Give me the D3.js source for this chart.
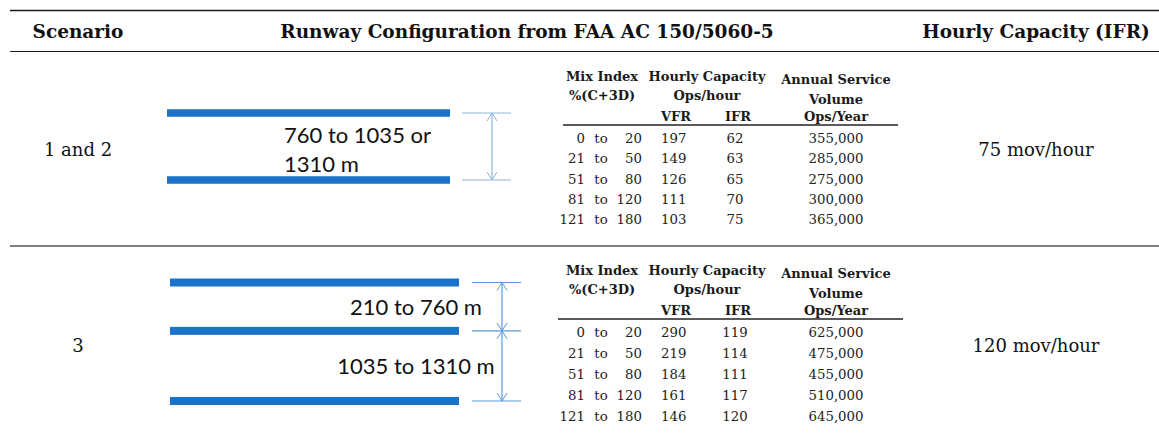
<!DOCTYPE html>
<html><head><meta charset="utf-8">
<script src="https://cdn.jsdelivr.net/npm/d3@7"></script>
<style>
html,body{margin:0;padding:0;background:#fff;}
svg{display:block;}
</style></head>
<body><svg id="chart" width="1159" height="441"></svg>
<script>
// ---------- DATA ----------
const columnHeaders = ["Scenario", "Runway Configuration from FAA AC 150/5060-5", "Hourly Capacity (IFR)"];
const scenarios = ["1 and 2", "3"];
const capacityIFR = [75, 120];
const capacityUnit = "mov/hour";
const runwaySeparations1 = ["760 to 1035 or", "1310 m"]; // one gap, two text lines
const runwaySeparations2 = ["210 to 760 m", "1035 to 1310 m"]; // two gaps
const runwayGapRatio2 = [1, 1.45];
const mixLow = [0, 21, 51, 81, 121];
const mixHigh = [20, 50, 80, 120, 180];
const vfr1 = [197, 149, 126, 111, 103];
const ifr1 = [62, 63, 65, 70, 75];
const asv1 = [355000, 285000, 275000, 300000, 365000];
const vfr2 = [290, 219, 184, 161, 146];
const ifr2 = [119, 114, 111, 117, 120];
const asv2 = [625000, 475000, 455000, 510000, 645000];
const subHeader1 = ["Mix Index", "Hourly Capacity", "Annual Service"];
const subHeader2 = ["%(C+3D)", "Ops/hour", "Volume"];
const subHeader3 = ["VFR", "IFR", "Ops/Year"];

// ---------- LAYOUT ----------
const svg = d3.select("#chart");
const W = 1159;
const serif = "'DejaVu Serif', serif";
const sans = "Lato, 'Open Sans', sans-serif";
const blue = "#1a72c9";
const fmt = d3.format(",");

// column centres
const colX = d3.scaleOrdinal().domain(columnHeaders).range([78, 527, 1036]);

// horizontal rules
svg.append("line").attr("x1", 10).attr("x2", W).attr("y1", 10.5).attr("y2", 10.5)
  .attr("stroke", "#1a1a1a").attr("stroke-width", 1.6);
svg.append("line").attr("x1", 10).attr("x2", W).attr("y1", 51.5).attr("y2", 51.5)
  .attr("stroke", "#1a1a1a").attr("stroke-width", 1);
svg.append("line").attr("x1", 10).attr("x2", W).attr("y1", 246).attr("y2", 246)
  .attr("stroke", "#555").attr("stroke-width", 1.6);

// header
svg.selectAll("text.hdr").data(columnHeaders).join("text").attr("class", "hdr")
  .attr("x", d => colX(d)).attr("y", 38).attr("text-anchor", "middle")
  .attr("font-family", serif).attr("font-weight", "bold").attr("font-size", 18.5)
  .attr("fill", "#111").text(d => d);

// rows
const rowY = d3.scaleOrdinal().domain(scenarios).range([156, 352]);
svg.selectAll("text.scn").data(scenarios).join("text").attr("class", "scn")
  .attr("x", colX(columnHeaders[0])).attr("y", d => rowY(d)).attr("text-anchor", "middle")
  .attr("font-family", serif).attr("font-size", 18).attr("fill", "#111").text(d => d);
svg.selectAll("text.cap").data(capacityIFR).join("text").attr("class", "cap")
  .attr("x", colX(columnHeaders[2])).attr("y", (d, i) => rowY(scenarios[i])).attr("text-anchor", "middle")
  .attr("font-family", serif).attr("font-size", 18).attr("fill", "#111").text(d => d + " " + capacityUnit);

// ---------- runway diagrams ----------
function arrowHead(g, x, y, dir, color) {
  g.append("path").attr("d", `M${x - 5},${y - dir * 8} L${x},${y} L${x + 5},${y - dir * 8}`)
    .attr("fill", "none").attr("stroke", color).attr("stroke-width", 1);
}
function runwayDiagram(opts) {
  const g = svg.append("g");
  const ys = opts.runwayY;
  g.selectAll("rect").data(ys).join("rect")
    .attr("x", opts.x0).attr("width", opts.x1 - opts.x0)
    .attr("y", d => d - opts.h / 2).attr("height", opts.h).attr("fill", blue);
  g.selectAll("line.ext").data(ys).join("line").attr("class", "ext")
    .attr("x1", opts.dx0).attr("x2", opts.dx1).attr("y1", d => d).attr("y2", d => d)
    .attr("stroke", opts.dimColor).attr("stroke-width", 1.2);
  for (let i = 0; i < ys.length - 1; i++) {
    g.append("line").attr("x1", opts.ax).attr("x2", opts.ax).attr("y1", ys[i]).attr("y2", ys[i + 1])
      .attr("stroke", opts.dimColor).attr("stroke-width", 1.2);
    arrowHead(g, opts.ax, ys[i], -1, opts.dimColor);
    arrowHead(g, opts.ax, ys[i + 1], 1, opts.dimColor);
  }
  return g;
}

// scenario 1: two runways
const ry1 = d3.scaleLinear().domain([0, 1]).range([113, 180]);
const g1 = runwayDiagram({ runwayY: [ry1(0), ry1(1)], x0: 167, x1: 450, h: 7.5,
  dx0: 462, dx1: 511, ax: 492, dimColor: "#8fb5e3" });
g1.selectAll("text").data(runwaySeparations1).join("text")
  .attr("x", 284).attr("y", (d, i) => 143 + i * 29)
  .attr("font-family", sans).attr("font-size", 22).attr("fill", "#111").text(d => d);

// scenario 3: three runways
const cum2 = [0, ...Array.from(d3.cumsum(runwayGapRatio2))];
const ry2 = d3.scaleLinear().domain([0, d3.max(cum2)]).range([282.5, 401]);
const ys2 = cum2.map(v => ry2(v));
const g2 = runwayDiagram({ runwayY: ys2, x0: 170, x1: 459, h: 8,
  dx0: 472, dx1: 521, ax: 502, dimColor: "#5b9ad8" });
g2.selectAll("text").data(runwaySeparations2).join("text")
  .attr("x", 416).attr("y", (d, i) => (ys2[i] + ys2[i + 1]) / 2 + 8)
  .attr("text-anchor", "middle")
  .attr("font-family", sans).attr("font-size", 22).attr("fill", "#111").text(d => d);

// ---------- FAA sub-tables ----------
function subTable(rule, step, vfr, ifr, asv, ruleX0, ruleX1) {
  const g = svg.append("g").attr("font-family", serif).attr("fill", "#1a1a1a");
  const hx = [602, 707, 836];
  const hdrY = [rule - 44, rule - 25];
  const hdrYAnn = [rule - 41, rule - 21];
  [subHeader1, subHeader2].forEach((row, r) => {
    g.selectAll(null).data(row).join("text")
      .attr("x", (d, i) => hx[i]).attr("y", (d, i) => i === 2 ? hdrYAnn[r] : hdrY[r])
      .attr("text-anchor", "middle").attr("font-weight", "bold").attr("font-size", 13).text(d => d);
  });
  const h3x = [676, 738, 836];
  g.selectAll(null).data(subHeader3).join("text")
    .attr("x", (d, i) => h3x[i]).attr("y", rule - 4)
    .attr("text-anchor", "middle").attr("font-weight", "bold").attr("font-size", 13).text(d => d);
  g.append("line").attr("x1", ruleX0).attr("x2", ruleX1).attr("y1", rule).attr("y2", rule)
    .attr("stroke", "#222").attr("stroke-width", 1.4);

  const y = d3.scaleLinear().domain([0, 1]).range([rule + 18, rule + 18 + step]);
  const rows = mixLow.map((lo, i) => ({ lo, hi: mixHigh[i], vfr: vfr[i], ifr: ifr[i], asv: asv[i] }));
  const rg = g.selectAll("g.r").data(rows).join("g").attr("class", "r")
    .attr("font-size", 13.3).attr("fill", "#222");
  rg.append("text").attr("x", 585).attr("y", (d, i) => y(i)).attr("text-anchor", "end").text(d => d.lo);
  rg.append("text").attr("x", 601).attr("y", (d, i) => y(i)).attr("text-anchor", "middle").text("to");
  rg.append("text").attr("x", 642).attr("y", (d, i) => y(i)).attr("text-anchor", "end").text(d => d.hi);
  rg.append("text").attr("x", 661).attr("y", (d, i) => y(i)).text(d => d.vfr);
  rg.append("text").attr("x", 735).attr("y", (d, i) => y(i)).attr("text-anchor", "middle").text(d => d.ifr);
  rg.append("text").attr("x", 836).attr("y", (d, i) => y(i)).attr("text-anchor", "middle").text(d => fmt(d.asv));
}
subTable(125, 20.3, vfr1, ifr1, asv1, 563, 898);
subTable(319, 21, vfr2, ifr2, asv2, 558, 903);
</script></body></html>
